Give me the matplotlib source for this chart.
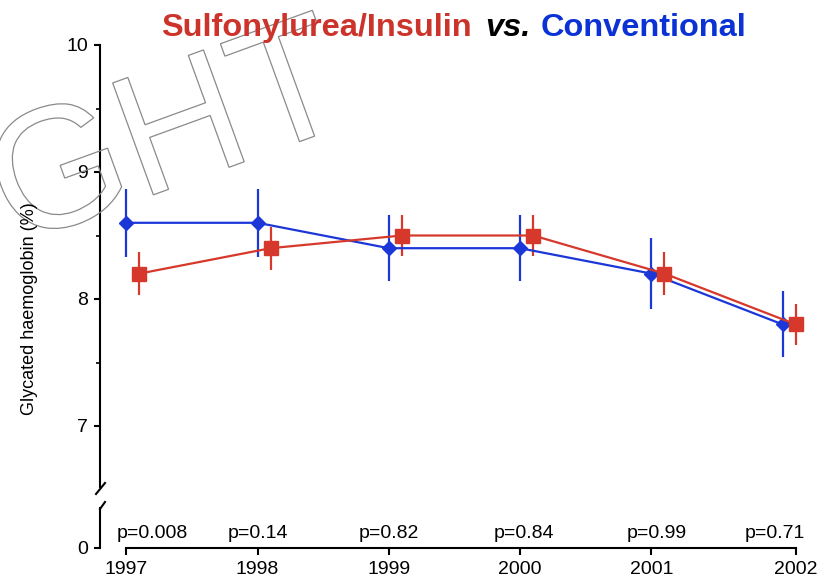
import numpy as np
import matplotlib
matplotlib.use("Agg")
import matplotlib.pyplot as plt
from matplotlib.textpath import TextPath
from matplotlib.patches import PathPatch
from matplotlib.font_manager import FontProperties
from matplotlib.transforms import Affine2D
from matplotlib.lines import Line2D

plt.rcParams['font.family'] = ['Liberation Sans', 'DejaVu Sans']

# data
years = [1997, 1998, 1999, 2000, 2001, 2002]
conv = [8.6, 8.6, 8.4, 8.4, 8.2, 7.8]
conv_err = [0.27, 0.27, 0.26, 0.26, 0.28, 0.26]
sulf = [8.2, 8.4, 8.5, 8.5, 8.2, 7.8]
sulf_err = [0.17, 0.17, 0.16, 0.16, 0.17, 0.16]
p_values = ['p=0.008', 'p=0.14', 'p=0.82', 'p=0.84', 'p=0.99', 'p=0.71']
year_labels = ['1997', '1998', '1999', '2000', '2001', '2002']

RED = '#d6392b'
BLUE = '#1c37d8'
W, H = 839, 582
shift = 0.1  # red points drawn a little to the right

fig = plt.figure(figsize=(W / 100, H / 100), dpi=100)


def fx(px):
    return px / W


def fy(py):
    return 1 - py / H


# upper panel (7-10) and lower panel (0)
ax = fig.add_axes([fx(100), fy(489.5), fx(722), (489.5 - 45) / H])
ax0 = fig.add_axes([fx(100), fy(548), fx(722), 43 / H])
for a in (ax, ax0):
    a.set_xlim(1996.8, 2002.3)
    a.patch.set_alpha(0)
    for s in ('top', 'right'):
        a.spines[s].set_visible(False)
    a.spines['left'].set_linewidth(1.5)
    a.spines['bottom'].set_linewidth(1.5)
    a.tick_params(width=1.5, labelsize=14, direction='out')

ax.set_ylim(6.5, 10)
ax.spines['bottom'].set_visible(False)
ax.spines['left'].set_bounds(6.52, 10)
ax.set_xticks([])
ax.set_yticks([7, 8, 9, 10])
ax.set_yticks([7.5, 8.5, 9.5], minor=True)
ax.tick_params(axis='y', which='major', length=4.5, pad=4)
ax.tick_params(axis='y', which='minor', length=3, width=1.2)

ax0.set_ylim(0, 1)
ax0.set_yticks([0])
ax0.spines['left'].set_bounds(0, 0.93)
ax0.spines['bottom'].set_bounds(years[0], years[-1] + shift)
xt = years[:-1] + [years[-1] + shift]
ax0.set_xticks(xt)
ax0.set_xticklabels(year_labels)
ax0.tick_params(axis='x', length=5, pad=4)
ax0.tick_params(axis='y', length=4.5, pad=4)

ax.errorbar(years, conv, yerr=conv_err, fmt='-D', color=BLUE, lw=1.6,
            elinewidth=1.6, markersize=7, capsize=0, clip_on=False)
ax.errorbar(np.array(years) + shift, sulf, yerr=sulf_err, fmt='-s', color=RED,
            lw=1.6, elinewidth=1.6, markersize=9.5, capsize=0, clip_on=False)

p_offsets = [0.2, 0.0, 0.0, 0.03, 0.04, -0.06]
for yr, off, txt in zip(years, p_offsets, p_values):
    ax0.text(yr + off, 0.23, txt, ha='center', va='baseline', fontsize=14)

# axis break marks
for (x1, y1, x2, y2) in [(105, 483, 96, 494), (105, 502, 100, 509)]:
    fig.add_artist(Line2D([fx(x1), fx(x2)], [fy(y1), fy(y2)], color='k', lw=1.5))

fig.text(fx(30), fy(309), 'Glycated haemoglobin (%)', rotation=90,
         ha='center', va='center', fontsize=13)

# title in three colours, pieces placed one after another
renderer = fig.canvas.get_renderer()
x = 161
parts = [('Sulfonylurea/Insulin', '#cc332b', 'normal', 14),
         ('vs.', 'black', 'italic', 10),
         ('Conventional', '#0b32d4', 'normal', 0)]
for txt, col, style, gap in parts:
    t = fig.text(fx(x), fy(36), txt, color=col, fontsize=23.4, fontweight='bold',
                 style=style, ha='left', va='baseline')
    bb = t.get_window_extent(renderer)
    x = bb.x1 + gap

# watermark, outline only
tp = TextPath((0, 0), 'GHT', size=173, prop=FontProperties(family='Liberation Sans'))
tr = Affine2D().rotate_deg(20).translate(13.6, H - 245.7).scale(1 / W, 1 / H) + fig.transFigure
fig.add_artist(PathPatch(tp, transform=tr, facecolor='none', edgecolor='#8a8a8a', lw=0.9))

fig.savefig('out.png', dpi=100)
